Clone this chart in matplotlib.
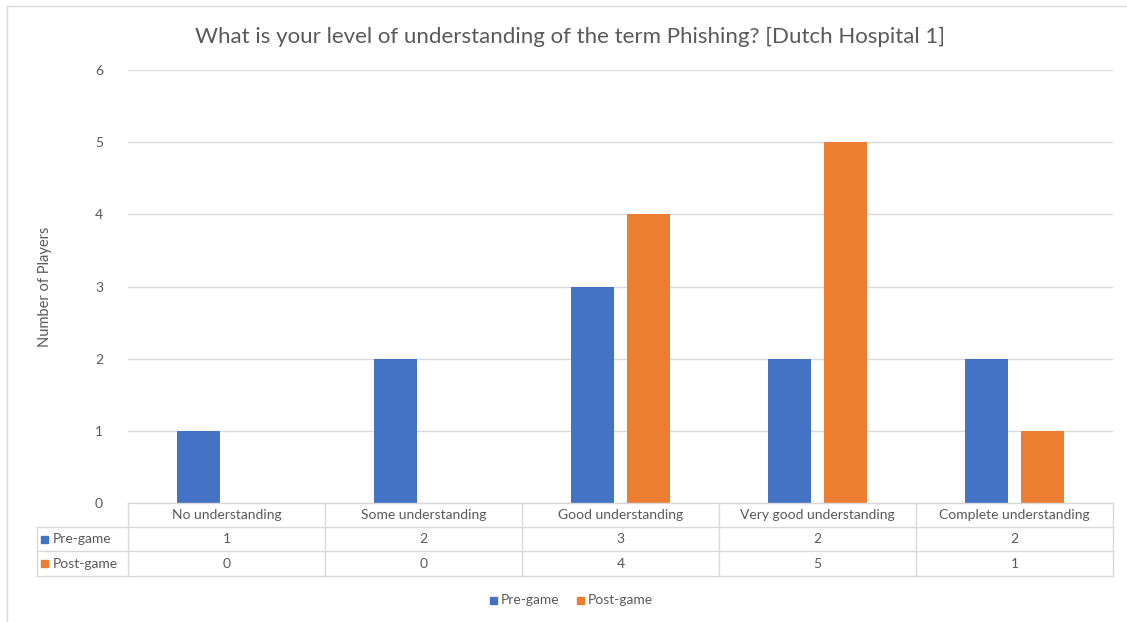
import matplotlib.pyplot as plt
import matplotlib.transforms as mtransforms
from matplotlib.lines import Line2D
from matplotlib.patches import Rectangle
import numpy as np

plt.rcParams['font.family'] = ['Lato', 'DejaVu Sans']

categories = ["No understanding", "Some understanding", "Good understanding",
              "Very good understanding", "Complete understanding"]
pre_game = [1, 2, 3, 2, 2]
post_game = [0, 0, 4, 5, 1]
series = [("Pre-game", pre_game, "#4472C4"), ("Post-game", post_game, "#ED7D31")]

W, H = 1127, 622
TEXT = "#595959"
GRID = "#D9D9D9"

fig = plt.figure(figsize=(W / 100, H / 100), dpi=100)


def fx(px):
    return px / W


def fy(py):
    return 1 - py / H


# plot area in pixel terms: x 128..1113, y 70..503
ax = fig.add_axes([fx(128), fy(503), fx(1113) - fx(128), fy(70) - fy(503)])
x = np.arange(len(categories))
width = 0.223
offset = 0.142
for k, (name, vals, col) in enumerate(series):
    ax.bar(x + (offset if k else -offset), vals, width, color=col, zorder=3)

ax.set_xlim(-0.5, len(categories) - 0.5)
ax.set_ylim(0, 6)
ax.set_yticks(range(7))
ax.yaxis.grid(True, color=GRID, linewidth=1)
ax.set_xticks([])
for s in ax.spines.values():
    s.set_visible(False)
ax.tick_params(axis='y', length=0, pad=18, labelsize=10, labelcolor=TEXT)
ax.set_ylabel("Number of Players", fontsize=10.5, color=TEXT)
ax.yaxis.set_label_coords((52 - 128) / (1113 - 128), 0.5)

fig.suptitle("What is your level of understanding of the term Phishing? [Dutch Hospital 1]",
             x=fx(570), y=fy(37), va='center', fontsize=16, color=TEXT)

# data table under the plot
tr = mtransforms.blended_transform_factory(ax.transData, fig.transFigure)
rows_y = [503, 527, 551, 576]
edges = np.arange(len(categories) + 1) - 0.5
left_data = -0.5 - (128 - 37) / 197

line_kw = dict(color=GRID, linewidth=1, transform=tr, clip_on=False)
fig.add_artist(Line2D([edges[0], edges[-1]], [fy(rows_y[0])] * 2, **line_kw))
for ry in rows_y[1:]:
    fig.add_artist(Line2D([left_data, edges[-1]], [fy(ry)] * 2, **line_kw))
for e in edges:
    fig.add_artist(Line2D([e, e], [fy(rows_y[0]), fy(rows_y[-1])], **line_kw))
fig.add_artist(Line2D([left_data, left_data], [fy(rows_y[1]), fy(rows_y[-1])], **line_kw))

for i, cat in enumerate(categories):
    fig.text(x[i], fy(515), cat, transform=tr, ha='center', va='center',
             fontsize=10, color=TEXT)
sq_w, sq_h = fx(7), fy(0) - fy(7)
for k, (name, vals, col) in enumerate(series):
    yc = fy((rows_y[k + 1] + rows_y[k + 2]) / 2)
    for i, v in enumerate(vals):
        fig.text(x[i], yc, str(v), transform=tr, ha='center', va='center',
                 fontsize=10, color=TEXT)
    fig.add_artist(Rectangle((fx(41), yc - sq_h / 2), sq_w, sq_h,
                             color=col, transform=fig.transFigure))
    fig.text(fx(53), yc, name, ha='left', va='center', fontsize=10, color=TEXT)

# legend
leg_y = fy(600)
for (name, vals, col), px in zip(series, [490, 577]):
    fig.add_artist(Rectangle((fx(px), leg_y - sq_h / 2), sq_w, sq_h,
                             color=col, transform=fig.transFigure))
    fig.text(fx(px + 11), leg_y, name, ha='left', va='center', fontsize=10, color=TEXT)

# chart frame
fig.add_artist(Line2D([fx(7), fx(7)], [fy(6), 0], color=GRID, linewidth=1))
fig.add_artist(Line2D([fx(7), 1], [fy(6), fy(6)], color=GRID, linewidth=1))

fig.savefig("out.png", dpi=100)
